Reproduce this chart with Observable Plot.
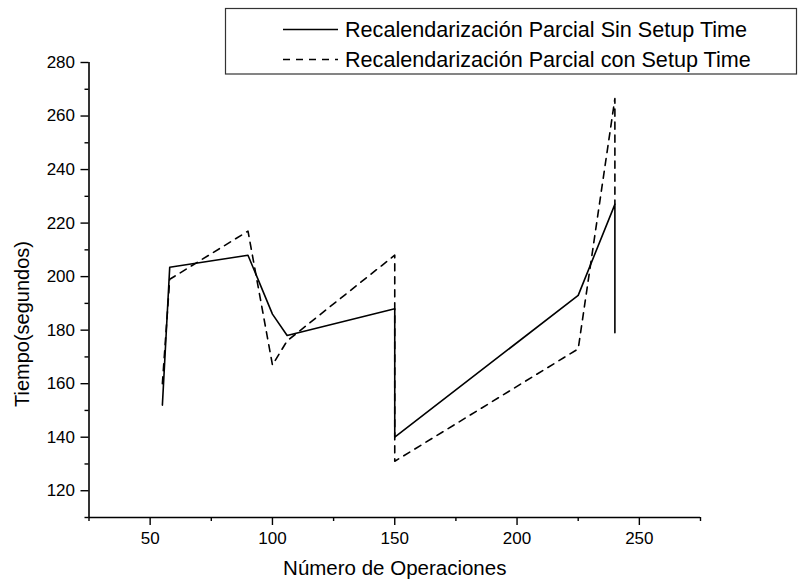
<!DOCTYPE html>
<html>
<head>
<meta charset="utf-8">
<script src="https://cdn.jsdelivr.net/npm/d3@7"></script>
<script src="https://cdn.jsdelivr.net/npm/@observablehq/plot@0.6"></script>
<style>
  html, body { margin: 0; padding: 0; background: #fff; }
  #wrap { position: relative; width: 798px; height: 586px; overflow: hidden; font-family: "Liberation Sans", Arial, sans-serif; }
  #legend { position: absolute; left: 0; top: 0; }
</style>
</head>
<body>
<div id="wrap"></div>
<script>
// Data
const opsSin = [55, 58, 90, 100, 106, 150, 150, 225, 240, 240];
const tiempoSin = [152, 203.5, 208, 186, 178, 188, 140, 193, 227, 179];
const opsCon = [55, 58, 90, 100, 106, 150, 150, 225, 240, 240];
const tiempoCon = [160, 199, 217, 167, 176, 208, 131, 173, 266.5, 227];

const seriesNames = ["Recalendarización Parcial Sin Setup Time", "Recalendarización Parcial con Setup Time"];
const xTicks = [50, 100, 150, 200, 250];
const xMinor = [25, 75, 125, 175, 225, 275];
const yTicks = [120, 140, 160, 180, 200, 220, 240, 260, 280];
const yMinor = [110, 130, 150, 170, 190, 210, 230, 250, 270];
const xTitle = "Número de Operaciones";
const yTitle = "Tiempo(segundos)";

const sin = opsSin.map((x, i) => ({x, y: tiempoSin[i]}));
const con = opsCon.map((x, i) => ({x, y: tiempoCon[i]}));

const chart = Plot.plot({
  width: 798,
  height: 586,
  marginLeft: 88.5,
  marginRight: 98,
  marginTop: 62,
  marginBottom: 69,
  style: {fontFamily: "'Liberation Sans', Arial, sans-serif", background: "white", color: "black"},
  x: {domain: [25, 275]},
  y: {domain: [110, 280]},
  marks: [
    Plot.axisX({ticks: xTicks, tickSize: 8, tickPadding: 6, fontSize: 17, label: null, strokeWidth: 1.4}),
    Plot.axisX({ticks: xMinor, tickSize: 4, tickFormat: () => "", label: null, strokeWidth: 1.4}),
    Plot.axisY({ticks: yTicks, tickSize: 8, tickPadding: 6, fontSize: 17, label: null, strokeWidth: 1.4}),
    Plot.axisY({ticks: yMinor, tickSize: 4, tickFormat: () => "", label: null, strokeWidth: 1.4}),
    Plot.ruleX([25], {stroke: "black", strokeWidth: 1.6}),
    Plot.ruleY([110], {stroke: "black", strokeWidth: 1.6}),
    Plot.line(sin, {x: "x", y: "y", stroke: "black", strokeWidth: 1.6}),
    Plot.line(con, {x: "x", y: "y", stroke: "black", strokeWidth: 1.6, strokeDasharray: "7,6"}),
    Plot.text([xTitle], {frameAnchor: "bottom", dy: 57, fontSize: 20.5, fill: "black"}),
    Plot.text([yTitle], {frameAnchor: "left", textAnchor: "middle", dx: -66, dy: 34, rotate: -90, fontSize: 20, fill: "black"})
  ]
});
const wrap = document.getElementById("wrap");
wrap.appendChild(chart);

// Legend overlay (inside the plot region, top right)
const ns = "http://www.w3.org/2000/svg";
const leg = document.createElementNS(ns, "svg");
leg.setAttribute("id", "legend");
leg.setAttribute("width", 798);
leg.setAttribute("height", 80);
const rect = document.createElementNS(ns, "rect");
rect.setAttribute("x", 225.5); rect.setAttribute("y", 8.5);
rect.setAttribute("width", 571); rect.setAttribute("height", 65.5);
rect.setAttribute("fill", "white"); rect.setAttribute("stroke", "#333"); rect.setAttribute("stroke-width", 1.2);
leg.appendChild(rect);
seriesNames.forEach((name, i) => {
  const cy = 29.5 + i * 30;
  const ln = document.createElementNS(ns, "line");
  ln.setAttribute("x1", 283); ln.setAttribute("x2", 338);
  ln.setAttribute("y1", cy); ln.setAttribute("y2", cy);
  ln.setAttribute("stroke", "black"); ln.setAttribute("stroke-width", 1.6);
  if (i === 1) ln.setAttribute("stroke-dasharray", "7,6");
  leg.appendChild(ln);
  const t = document.createElementNS(ns, "text");
  t.setAttribute("x", 345); t.setAttribute("y", cy + 7.5);
  t.setAttribute("font-size", 21.6);
  t.setAttribute("font-family", "'Liberation Sans', Arial, sans-serif");
  t.textContent = name;
  leg.appendChild(t);
});
wrap.appendChild(leg);
</script>
</body>
</html>
